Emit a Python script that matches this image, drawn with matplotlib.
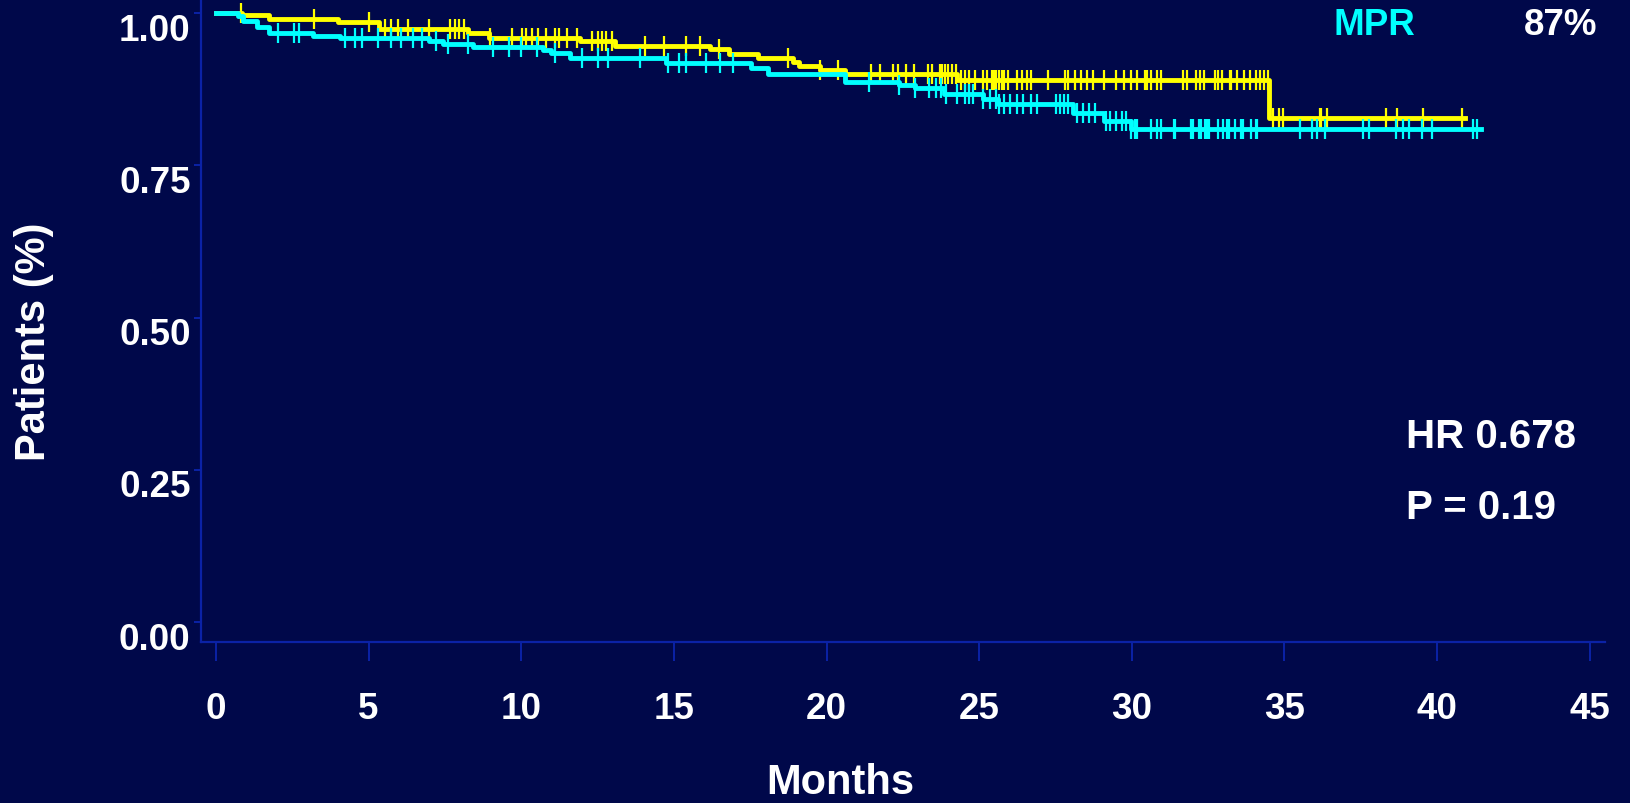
import numpy as np
import matplotlib.pyplot as plt
from matplotlib.transforms import ScaledTranslation

plt.rcParams['font.family'] = ['Liberation Sans', 'DejaVu Sans']
plt.rcParams['font.weight'] = 'bold'

# --- data ---
# yellow arm: step times (months) and survival after each step
yellow_times = [0, 0.84, 1.75, 3.99, 5.35, 8.27, 8.95, 11.94, 13.07, 16.18, 16.79,
                17.74, 18.89, 19.10, 19.78, 20.59, 24.26, 34.50]
yellow_surv = [1.0, 0.997, 0.990, 0.986, 0.974, 0.968, 0.960, 0.955, 0.946, 0.941, 0.933,
               0.927, 0.920, 0.913, 0.907, 0.900, 0.891, 0.828]
yellow_end = 40.9
yellow_censor = [0.83, 3.20, 5.01, 5.53, 5.72, 5.96, 6.30, 6.98, 7.66, 7.82, 7.96, 8.11,
                 8.99, 9.70, 10.01, 10.14, 10.35, 10.55, 10.82, 11.09, 11.23, 11.50, 11.84,
                 12.32, 12.51, 12.65, 12.78, 12.96, 14.07, 14.66, 15.39, 15.84, 16.49, 18.73,
                 19.78, 20.39, 21.47, 21.74, 22.19, 22.33, 22.60, 22.87, 23.31, 23.44, 23.71,
                 23.78, 23.89, 23.99, 24.12, 24.23, 24.39, 24.53, 24.66, 24.87, 25.14, 25.27,
                 25.41, 25.48, 25.55, 25.64, 25.75, 25.82, 25.95, 26.23, 26.40, 26.57, 26.70,
                 27.24, 27.81, 27.92, 28.13, 28.33, 28.53, 28.74, 29.08, 29.48, 29.76, 29.96,
                 30.16, 30.44, 30.50, 30.64, 30.81, 30.97, 31.68, 31.82, 32.10, 32.23, 32.36,
                 32.72, 32.83, 32.97, 33.21, 33.26, 33.45, 33.68, 33.87, 34.06, 34.19, 34.32,
                 34.47, 34.61, 34.83, 34.96, 36.16, 36.21, 36.40, 38.31, 38.69, 39.54, 40.80]

# cyan arm (MPR)
cyan_times = [0, 0.73, 0.87, 1.34, 1.75, 3.18, 4.06, 6.98, 7.45, 8.41, 10.71, 10.99,
              11.60, 14.75, 17.53, 18.08, 20.59, 22.36, 22.90, 23.85, 25.14, 25.61, 28.06,
              29.08, 29.96]
cyan_surv = [1.0, 0.995, 0.988, 0.977, 0.968, 0.962, 0.959, 0.955, 0.950, 0.945, 0.940, 0.934,
             0.926, 0.919, 0.910, 0.900, 0.887, 0.883, 0.878, 0.868, 0.860, 0.851, 0.837,
             0.823, 0.810]
cyan_end = 41.45
cyan_censor = [2.02, 2.57, 2.73, 4.24, 4.54, 4.78, 5.32, 5.72, 6.07, 6.44, 6.75, 7.21, 7.59,
               8.24, 9.08, 9.60, 9.98, 10.51, 11.12, 11.98, 12.52, 12.85, 13.90, 14.82, 15.16,
               15.39, 16.04, 16.52, 16.95, 21.40, 22.38, 22.90, 23.35, 23.60, 23.74, 23.92,
               24.28, 24.53, 24.66, 24.80, 25.14, 25.34, 25.55, 25.65, 25.82, 26.02, 26.23,
               26.43, 26.70, 26.90, 27.52, 27.65, 27.79, 27.92, 28.20, 28.40, 28.60, 28.81,
               29.14, 29.28, 29.48, 29.69, 29.82, 29.96, 30.10, 30.16, 30.64, 30.83, 30.97,
               31.38, 31.43, 31.95, 32.01, 32.21, 32.28, 32.39, 32.45, 32.53, 32.81, 32.99,
               33.12, 33.19, 33.37, 33.59, 33.65, 33.92, 34.06, 34.11, 35.50, 35.89, 36.08,
               36.34, 37.58, 37.77, 38.65, 38.89, 39.08, 39.49, 39.82, 41.18, 41.32]

x_ticks = [0, 5, 10, 15, 20, 25, 30, 35, 40, 45]
y_ticks = [0, 0.25, 0.5, 0.75, 1.0]
y_ticklabels = ['0.00', '0.25', '0.50', '0.75', '1.00']

bg = '#00084A'
axis_blue = '#0B22A6'
W, H = 1630, 804


def px(x, y):
    return x / W, 1 - y / H


def km_curve(ax, times, surv, end, censor, color):
    t = list(times) + [end]
    s = list(surv) + [surv[-1]]
    ax.step(t, s, where='post', color=color, lw=3.5)
    idx = np.searchsorted(times, censor, side='right') - 1
    ax.plot(censor, np.array(surv)[idx], ls='none', marker='|', ms=14.5, mew=1.6,
            color=color)


fig = plt.figure(figsize=(W / 100, H / 100), dpi=100, facecolor=bg)
ax = fig.add_axes([201 / W, 1 - 642.5 / H, 1404 / W, 642.5 / H])
ax.set_facecolor(bg)

km_curve(ax, yellow_times, yellow_surv, yellow_end, yellow_censor, '#FFFF00')
km_curve(ax, cyan_times, cyan_surv, cyan_end, cyan_censor, '#00FFFF')

ax.set_xlim(-0.49, 45.5)
ax.set_ylim(-0.032, 1.0235)
ax.set_xticks(x_ticks)
ax.set_yticks(y_ticks)
ax.set_yticklabels(y_ticklabels)

for side in ['top', 'right']:
    ax.spines[side].set_visible(False)
for side in ['left', 'bottom']:
    ax.spines[side].set_color(axis_blue)
    ax.spines[side].set_linewidth(1.6)

ax.tick_params(axis='x', direction='out', length=13.7, width=1.4, color=axis_blue,
               labelsize=26.5, labelcolor='white', pad=22)
ax.tick_params(axis='y', direction='out', length=5, width=1.4, color=axis_blue,
               labelsize=26.5, labelcolor='white', pad=2.5)
for lbl in ax.get_yticklabels():
    lbl.set_transform(lbl.get_transform() + ScaledTranslation(0, -0.13, fig.dpi_scale_trans))

fig.text(*px(840, 794), 'Months', color='white', fontsize=30, ha='center', va='baseline')
fig.text(*px(34, 342), 'Patients (%)', color='white', fontsize=30, rotation=90,
         ha='center', va='center')

fig.text(*px(1333, 35), 'MPR', color='#00FFFF', fontsize=26.5, ha='left', va='baseline')
fig.text(*px(1524, 35), '87%', color='white', fontsize=26.5, ha='left', va='baseline')
fig.text(*px(1406, 448), 'HR 0.678', color='white', fontsize=29, ha='left', va='baseline')
fig.text(*px(1406, 519), 'P = 0.19', color='white', fontsize=29, ha='left', va='baseline')

fig.savefig('out.png', dpi=100, facecolor=bg)
